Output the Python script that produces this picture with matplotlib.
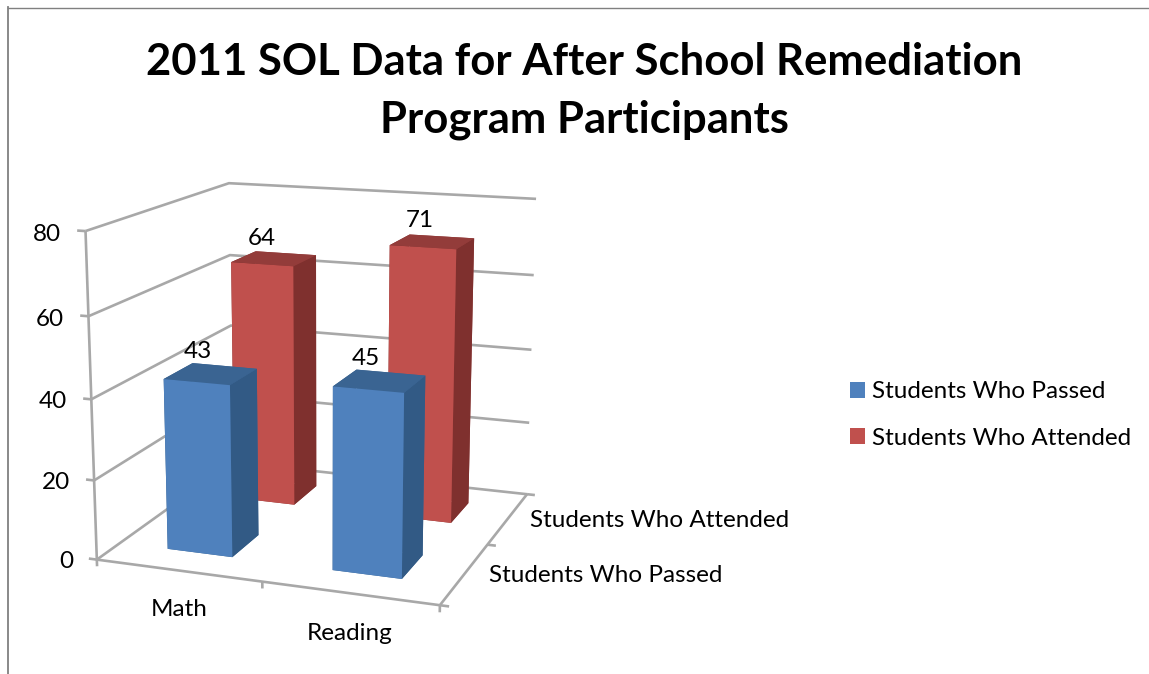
import numpy as np
import matplotlib
matplotlib.use("Agg")
import matplotlib.pyplot as plt
from matplotlib.lines import Line2D
from matplotlib.patches import Patch
from mpl_toolkits.mplot3d import proj3d

categories = ["Math", "Reading"]
series_names = ["Students Who Passed", "Students Who Attended"]
passed = [43, 45]
attended = [64, 71]
z_ticks = [0, 20, 40, 60, 80]
title = "2011 SOL Data for After School Remediation\nProgram Participants"

W, H = 1149, 674
plt.rcParams['font.family'] = ['Lato', 'DejaVu Sans']

fig = plt.figure(figsize=(W / 100, H / 100), dpi=100, facecolor='white')
ax = fig.add_subplot(projection='3d', computed_zorder=False)
ax.set_axis_off()
ax.patch.set_visible(False)
ax.set_xlim(0, 2, view_margin=0)
ax.set_ylim(0, 2, view_margin=0)
ax.set_zlim(0, 80, view_margin=0)

# camera values fitted against the picture
ax.view_init(elev=14.22, azim=-70.14)
ax.set_proj_type('persp', focal_length=0.5647)
ax.set_box_aspect((1, 0.9828, 0.9317))
cx, cy, scale = 323.88, 373.13, 3041.0
vx0, vx1 = ax.viewLim.intervalx
vy0, vy1 = ax.viewLim.intervaly
ax.set_position([(cx + scale * vx0) / W, (H - cy + scale * vy0) / H,
                 scale * (vx1 - vx0) / W, scale * (vy1 - vy0) / H])

grid_col = '#A8A8A8'
grid_lw = 1.9
tick_x = 0.05
tick_z = 1.7

def wall_line(xs, ys, zs, col=grid_col, lw=grid_lw):
    ax.plot(xs, ys, zs, color=col, lw=lw, zorder=1, solid_capstyle='butt')

# text at a 3d data position, drawn flat on the axes
def label3d(x, y, z, s, **kw):
    px, py, _ = proj3d.proj_transform(x, y, z, ax.get_proj())
    ax.text2D(px, py, s, transform=ax.transData, fontsize=label_size, color='black',
              va='center', zorder=5, **kw)

# gridlines on the left and back walls
for z in z_ticks:
    if z > 0:
        wall_line([0, 0, 2], [0, 2, 2], [z, z, z])
    else:
        wall_line([0, 0], [0, 2], [0, 0])
        wall_line([0, 2], [2, 2], [0, 0])

# axis lines
wall_line([0, 0], [0, 0], [0, 80])
wall_line([0, 2], [0, 0], [0, 0])
wall_line([2, 2], [0, 2], [0, 0])
for z in z_ticks:
    wall_line([-tick_x, 0], [0, 0], [z, z])
for x in range(3):
    wall_line([x, x], [0, 0], [-tick_z, 0])
for y in range(3):
    wall_line([2, 2 + tick_x], [y, y], [0, 0])

# faces are -z, +z, -y, +y, -x, +x
blue_faces = ['#3A648F', '#3A6492', '#4F81BD', '#3A6492', '#325A85', '#325A85']
red_faces = ['#8A3735', '#933C3A', '#C0504D', '#933C3A', '#7F302E', '#7F302E']
bar_w = 0.4

# back row first so the front row covers it
rows = [(1, attended, red_faces), (0, passed, blue_faces)]
for row, vals, faces in rows:
    for i, v in enumerate(vals):
        ax.bar3d(i + 0.5 - bar_w / 2, row + 0.5 - bar_w / 2, 0, bar_w, bar_w, v,
                 color=faces, shade=False, edgecolor='none', linewidth=0, zorder=2)

label_size = 17.5
for row, vals, faces in rows:
    for i, v in enumerate(vals):
        label3d(i + 0.5 - 0.08, row + 0.5, v + 5.2, str(v), ha='center')

for z in z_ticks:
    label3d(-0.15, 0, z - 1.2, str(z), ha='right')
for i, c in enumerate(categories):
    label3d(i + 0.5, 0, -10, c, ha='center')
for j, s in enumerate(series_names):
    label3d(2.135, j + 0.5, 0.2, s, ha='left')

handles = [Patch(facecolor='#4F81BD', label=series_names[0]),
           Patch(facecolor='#C0504D', label=series_names[1])]
fig.legend(handles=handles, loc='center left', bbox_to_anchor=(850 / W, 1 - 415 / H),
           frameon=False, fontsize=label_size, handlelength=0.62, handleheight=0.62,
           handletextpad=0.29, labelspacing=1.05, borderpad=0, borderaxespad=0)

fig.text(584 / W, 1 - 91 / H, title, ha='center', va='center', fontsize=31.4,
         fontweight='bold', linespacing=1.54, color='black')

# outer frame of the screenshot
fig.add_artist(Line2D([8 / W, 8 / W], [0, 1 - 7 / H], color='#808080', lw=1.3))
fig.add_artist(Line2D([8 / W, 1], [1 - 7.5 / H, 1 - 7.5 / H], color='#808080', lw=1.0))

fig.savefig("out.png", dpi=100)
